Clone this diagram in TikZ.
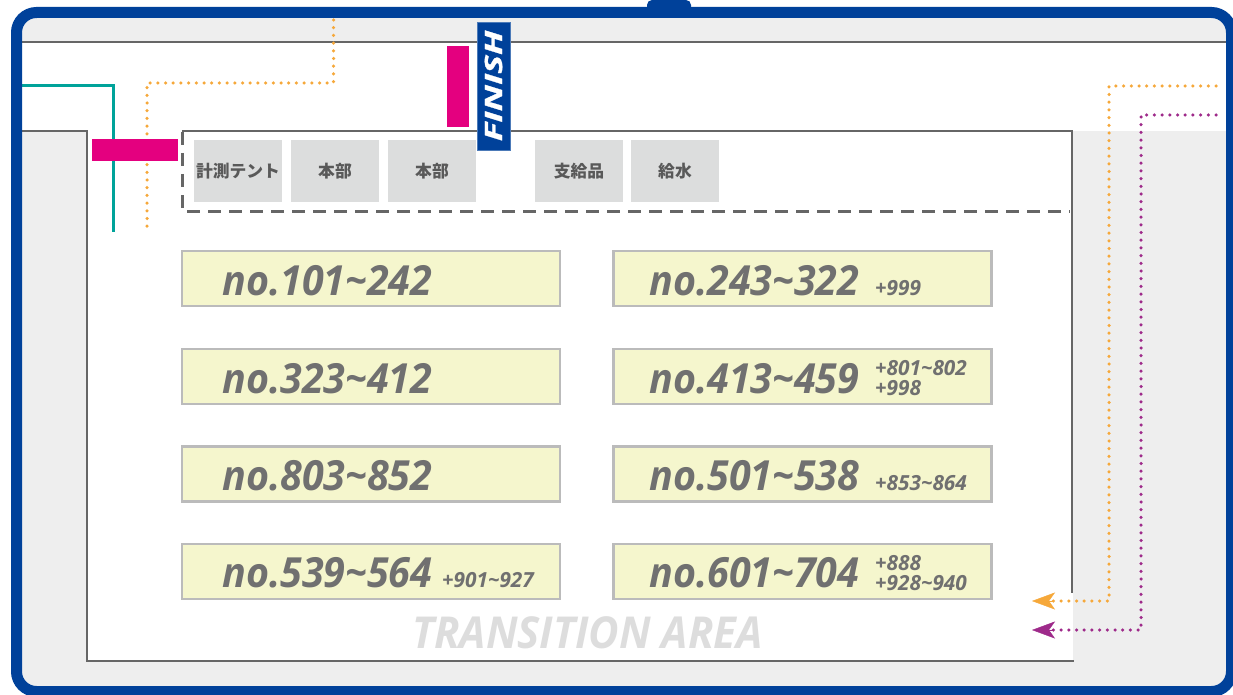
\documentclass[tikz,border=0pt]{standalone}
\usepackage{fontspec}
\setmainfont{Open Sans}
\newfontfamily\cjk{Noto Sans CJK JP}
\newfontfamily\numf{Open Sans}[FakeStretch=0.95]
\newfontfamily\finf{Open Sans}[FakeStretch=1.46, FakeBold=1.2]
\usetikzlibrary{arrows.meta}
\definecolor{bblue}{HTML}{00419A}
\definecolor{lgray}{HTML}{EEEEEE}
\definecolor{dgray}{HTML}{666666}
\definecolor{tentgray}{HTML}{DCDDDD}
\definecolor{tenttext}{HTML}{595959}
\definecolor{yfill}{HTML}{F5F6CD}
\definecolor{yborder}{HTML}{BBBBBB}
\definecolor{numtext}{HTML}{707070}
\definecolor{magc}{HTML}{E4007F}
\definecolor{tealc}{HTML}{00A39A}
\definecolor{orangec}{HTML}{F6A83A}
\definecolor{purplec}{HTML}{9E2A8A}
\definecolor{transgray}{HTML}{DDDDDD}
\tikzset{
  wall/.style={draw=dgray, line width=2.2},
  tent/.style={fill=tentgray, minimum width=88, minimum height=62, inner sep=0,
    font=\cjk\bfseries\fontsize{16.8}{18}\selectfont, text=tenttext},
  ybox/.style={draw=yborder, line width=2.5, fill=yfill, minimum width=378, minimum height=55, inner sep=0},
  bignum/.style={anchor=base west, inner sep=0, text=numtext, font=\numf\bfseries\itshape\fontsize{41.5}{41.5}\selectfont},
  smallnum/.style={anchor=base west, inner sep=0, text=numtext, font=\bfseries\itshape\fontsize{20.8}{20.8}\selectfont},
  dots/.style={line width=3.5, line cap=round, dash pattern=on 0pt off 7.7pt},
  tipc/.style={-{Stealth[length=23pt, width=17pt, inset=6pt]}}
}
\begin{document}
\begin{tikzpicture}[x=1pt, y=-1pt]
\useasboundingbox (0,0) rectangle (1233,695);
% background
\fill[lgray, rounded corners=20] (16.5,12.5) rectangle (1231.5,691.5);
\fill[white] (22,43) rectangle (1226,131);
\fill[white] (87,131) rectangle (1073,661);
% walls
\draw[wall] (22,42) -- (1226,42);
\draw[wall] (22,131) -- (87,131) -- (87,661) -- (1074,661);
\draw[wall] (182,131) -- (1072,131) -- (1072,593);
\draw[dgray, line width=3, dash pattern=on 13pt off 8pt] (182,132) -- (182,211) -- (1070,211);
% teal route
\coordinate (tA) at (22,86);
\coordinate (tB) at (113,86);
\coordinate (tC) at (113,232);
\draw[tealc, line width=3] (tA) -- (tB) -- (tC);
% orange dotted route top
\coordinate (oA) at (333.5,20);
\coordinate (oB) at (333.5,83);
\coordinate (oC) at (147,83);
\coordinate (oD) at (147,231);
\draw[orangec, dots] (oA) -- (oB) -- (oC) -- (oD);
% magenta bars
\node[fill=magc, minimum width=86, minimum height=22, inner sep=0] (mag1) at (135,150) {};
\node[fill=magc, minimum width=22, minimum height=81, inner sep=0] (mag2) at (458,86.5) {};
% finish
\node[fill=bblue, draw=bblue!70!white, line width=0.8, minimum width=33, minimum height=128, inner sep=0] (fin) at (493.5,86) {};
\node[rotate=90, text=white, inner sep=0, font=\finf\bfseries\itshape\fontsize{24}{24}\selectfont] (fintext) at (fin.center) {FINISH};
% tents
\node[tent] (t1) at (238,171) {計測テント};
\node[tent] (t2) at (335,171) {本部};
\node[tent] (t3) at (432,171) {本部};
\node[tent] (t4) at (579,171) {支給品};
\node[tent] (t5) at (675,171) {給水};
% yellow boxes
\node[ybox] (b1) at (371,278.5) {};
\node[ybox] (b2) at (802.5,278.5) {};
\node[ybox] (b3) at (371,376.5) {};
\node[ybox] (b4) at (802.5,376.5) {};
\node[ybox] (b5) at (371,474) {};
\node[ybox] (b6) at (802.5,474) {};
\node[ybox] (b7) at (371,571.5) {};
\node[ybox] (b8) at (802.5,571.5) {};
\node[bignum] (n1) at (222,295) {no.101\char`~242};
\node[bignum] (n2) at (649,295) {no.243\char`~322};
\node[bignum] (n3) at (222,393) {no.323\char`~412};
\node[bignum] (n4) at (649,393) {no.413\char`~459};
\node[bignum] (n5) at (222,490) {no.803\char`~852};
\node[bignum] (n6) at (649,490) {no.501\char`~538};
\node[bignum] (n7) at (222,587.5) {no.539\char`~564};
\node[bignum] (n8) at (649,587.5) {no.601\char`~704};
\node[smallnum] (s2) at (875,295) {+999};
\node[smallnum] (s4a) at (875,375) {+801\char`~802};
\node[smallnum] (s4b) at (875,395) {+998};
\node[smallnum] (s6) at (875,490) {+853\char`~864};
\node[smallnum] (s7) at (442,587) {+901\char`~927};
\node[smallnum] (s8a) at (875,570) {+888};
\node[smallnum] (s8b) at (875,590) {+928\char`~940};
\node[anchor=base west, inner sep=0, text=transgray, font=\numf\bfseries\itshape\fontsize{44}{44}\selectfont] (trans) at (412,648) {TRANSITION AREA};
% right dotted routes with arrows
\coordinate (rA) at (1216,86);
\coordinate (rB) at (1109,86);
\coordinate (rC) at (1109,601);
\coordinate (rD) at (1032,601);
\draw[orangec, dots] (rA) -- (rB) -- (rC) -- ([xshift=19pt]rD);
\draw[orangec, tipc] ([xshift=21pt]rD) -- (rD);
\coordinate (pA) at (1216,115);
\coordinate (pB) at (1141,115);
\coordinate (pC) at (1141,630);
\coordinate (pD) at (1032,630);
\draw[purplec, dots] (pA) -- (pB) -- (pC) -- ([xshift=19pt]pD);
\draw[purplec, tipc] ([xshift=21pt]pD) -- (pD);
% blue frame
\fill[bblue, rounded corners=5] (647,0) rectangle (691,14);
\draw[bblue, line width=11, rounded corners=20] (16.5,12.5) rectangle (1231.5,691.5);
\end{tikzpicture}
\end{document}
